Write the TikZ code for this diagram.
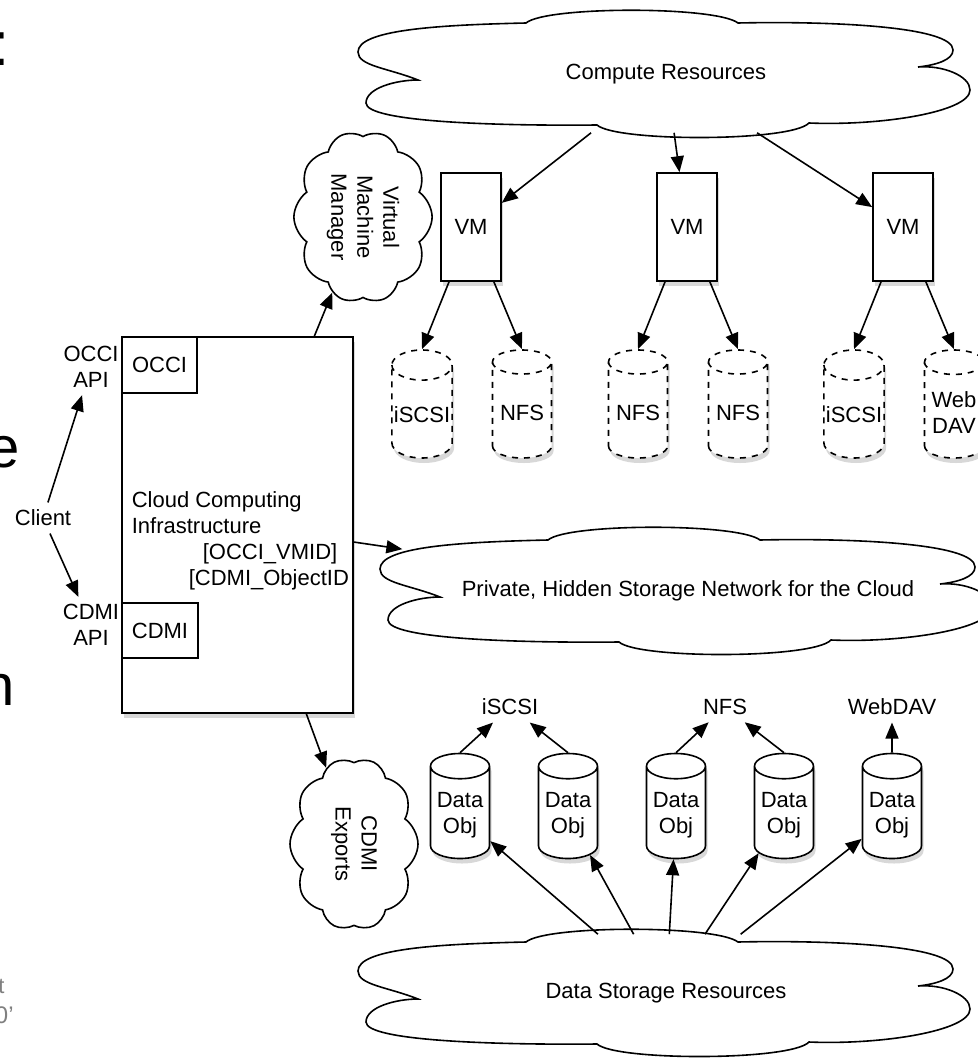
\documentclass[tikz,border=0pt]{standalone}
\usepackage{fontspec}
\setmainfont{Liberation Sans}
\usepackage{tikz}
\usetikzlibrary{positioning}
\usetikzlibrary{arrows.meta}
\usetikzlibrary{shapes.geometric,shapes.symbols,shapes.misc,shadows}
\newcommand{\cloudedge}[1]{%
  \draw[shift={(#1.center)}] (-248,6)
    .. controls (-278,-6) and (-308,-8) .. (-308,-22)
    .. controls (-308,-44) and (-230,-49) .. (-140,-51)
    .. controls (-120,-68) and (50,-68) .. (72,-51)
    .. controls (162,-53) and (287,-48) .. (287,-24)
    .. controls (287,-14) and (270,-9) .. (252,-7)
    .. controls (277,-9) and (304,2) .. (304,16)
    .. controls (304,38) and (215,52) .. (143,49)
    .. controls (125,68) and (-50,68) .. (-69,51)
    .. controls (-170,52) and (-300,48) .. (-300,29)
    .. controls (-300,14) and (-270,6) .. (-248,6) -- cycle;}

\begin{document}
\begin{tikzpicture}[x=0.5pt,y=-0.5pt,thick,font=\fontsize{11pt}{13pt}\selectfont,
  >={Triangle[length=8pt,width=6.5pt]},
  box/.style={rectangle,draw,fill=white},
  shadowed/.style={drop shadow={shadow xshift=1pt,shadow yshift=-2.5pt,opacity=0.3}},
  vm/.style={box,shadowed,minimum width=30pt,minimum height=54pt},
  disk/.style={cylinder,shape border rotate=90,aspect=0.5,draw,fill=white,shadowed,
    inner xsep=1pt,minimum width=29.5pt,minimum height=54pt,align=center},
  vdisk/.style={disk,dashed},
  dobj/.style={disk,minimum height=52.5pt},
  sky/.style={rounded rectangle,minimum width=309pt,minimum height=58pt},
  puff/.style={cloud,cloud puffs=10,cloud puff arc=110,cloud ignores aspect,draw,fill=white,
    minimum width=86pt,minimum height=64pt,align=center,rotate=-90},
  tag/.style={align=center},
  slide/.style={inner sep=0pt,anchor=base east}]

  \useasboundingbox (0,0) rectangle (978,1060);
  \clip (0,0) rectangle (978,1060);
  \fill[white] (0,0) rectangle (978,1060);

  % slide text at the left edge
  \node[slide,font=\fontsize{31pt}{31pt}\selectfont] (colon) at (10.7,65) {:};
  \node[slide,font=\fontsize{29pt}{29pt}\selectfont] (letterE) at (20.4,467) {e};
  \node[slide,font=\fontsize{29pt}{29pt}\selectfont] (letterN) at (15.9,705) {n};
  \node[slide,gray,font=\fontsize{11pt}{11pt}\selectfont] (letterT) at (5.3,993) {t};
  \node[slide,gray,font=\fontsize{12pt}{12pt}\selectfont] (yearTag) at (14.4,1023) {0'};

  % compute side
  \node[sky] (compute) at (666,74) {Compute Resources};
  \node[vm] (vm1) at (471,227) {VM};
  \node[vm] (vm2) [right=108pt of vm1.center,anchor=center] {VM};
  \node[vm] (vm3) [right=108pt of vm2.center,anchor=center] {VM};

  \node[vdisk] (scsi1) [below left=88.5pt and 24.5pt of vm1.center,anchor=shape center] {iSCSI};
  \node[vdisk] (nfs1)  [below right=88.5pt and 25.5pt of vm1.center,anchor=shape center] {NFS};
  \node[vdisk] (nfs2)  [below left=88.5pt and 24.5pt of vm2.center,anchor=shape center] {NFS};
  \node[vdisk] (nfs3)  [below right=88.5pt and 25.5pt of vm2.center,anchor=shape center] {NFS};
  \node[vdisk] (scsi2) [below left=88.5pt and 24.5pt of vm3.center,anchor=shape center] {iSCSI};
  \node[vdisk] (dav1)  [below right=88.5pt and 25.5pt of vm3.center,anchor=shape center] {Web\\DAV};

  % infrastructure
  \node[box,shadowed,minimum width=115.5pt,minimum height=188pt] (infra) at (237.5,525) {};
  \node[box,minimum width=37.5pt,minimum height=28pt,anchor=north west] (occi) at (infra.north west) {OCCI};
  \node[box,minimum width=38pt,minimum height=27.5pt] (cdmi) [above right=27.5pt and 0pt of infra.south west,anchor=south west] {CDMI};
  \node[align=left,anchor=north west,inner sep=0pt] (infratext) at (131,491)
   {Cloud Computing\\Infrastructure\\\hspace*{35.5pt}[OCCI\_VMID]\\\hspace*{28.5pt}[CDMI\_ObjectID};

  \node[tag] (client)  at (43,518) {Client};
  \node[tag] (occiapi) at (91,367) {OCCI\\API};
  \node[tag] (cdmiapi) at (91,625) {CDMI\\API};

  \node[puff] (vmm)   at (363,217) {Virtual\\Machine\\Manager};
  \node[puff] (cdmix) at (354,844) {CDMI\\Exports};

  % storage side
  \node[sky] (private)   at (688,591) {Private, Hidden Storage Network for the Cloud};
  \node[sky] (datastore) at (666,993) {Data Storage Resources};

  \node[dobj] (obj1) at (460,806) [anchor=shape center] {Data\\Obj};
  \node[dobj] (obj2) [right=54pt of obj1.shape center,anchor=shape center] {Data\\Obj};
  \node[dobj] (obj3) [right=54pt of obj2.shape center,anchor=shape center] {Data\\Obj};
  \node[dobj] (obj4) [right=54pt of obj3.shape center,anchor=shape center] {Data\\Obj};
  \node[dobj] (obj5) [right=54pt of obj4.shape center,anchor=shape center] {Data\\Obj};

  \node (iscsi)  [above right=49.5pt and 25pt of obj1.shape center,anchor=center] {iSCSI};
  \node (nfs)    [above right=49.5pt and 24.5pt of obj3.shape center,anchor=center] {NFS};
  \node (webdav) [above=49.5pt of obj5.shape center,anchor=center] {WebDAV};

  \cloudedge{compute}
  \cloudedge{private}
  \cloudedge{datastore}

  \path[->]
    (compute) edge (vm1)
              edge (vm2)
              edge (vm3)
    (vm1) edge (scsi1.north)
          edge (nfs1.north)
    (vm2) edge (nfs2.north)
          edge (nfs3.north)
    (vm3) edge (scsi2.north)
          edge (dav1.north)

    (client) edge (occiapi)
             edge (cdmiapi)
    (infra) edge (vmm)
            edge (private)
            edge (cdmix)

    (datastore) edge (obj1)
                edge (obj2)
                edge (obj3)
                edge (obj4)
                edge (obj5)
    (obj1.north) edge (iscsi)
    (obj2.north) edge (iscsi)
    (obj3.north) edge (nfs)
    (obj4.north) edge (nfs)
    (obj5.north) edge (webdav);

\end{tikzpicture}
\end{document}
